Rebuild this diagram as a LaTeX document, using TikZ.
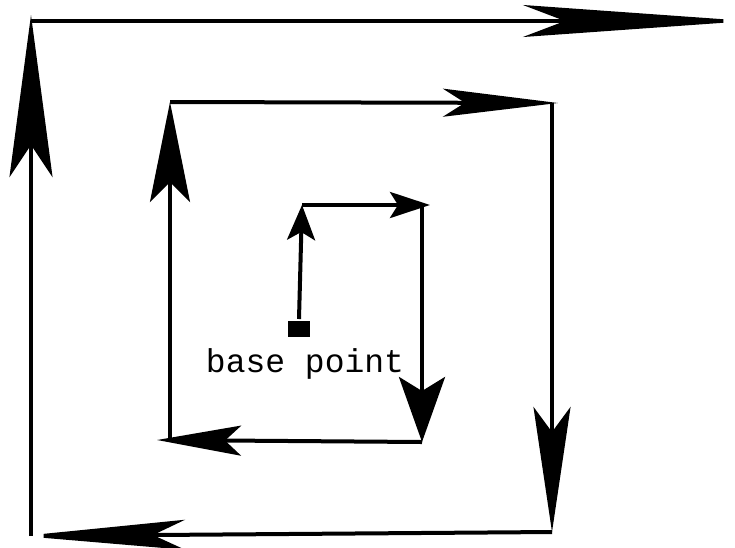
\documentclass[tikz,border=0pt]{standalone}
\usepackage{fontspec}
\setmonofont{Liberation Mono}
\usetikzlibrary{arrows.meta}

\begin{document}
\begin{tikzpicture}[x=1pt, y=-1pt, line width=4pt,
  spear/.style n args={3}{-{Stealth[length=#1pt, width=#2pt, inset=#3pt]}},
  lbl/.style={font=\fontsize{33}{35}\selectfont\ttfamily, inner sep=0pt}]
\useasboundingbox (0,0) rectangle (735,547);
% corners of the spiral, from the inside out
\node[fill, minimum width=22pt, minimum height=16pt, inner sep=0pt] (bp) at (299,329) {};
\coordinate (a) at (302,205);
\coordinate (b) at (430,205);
\coordinate (c) at (422,442);
\coordinate (d) at (157,440);
\coordinate (e) at (170,102);
\coordinate (f) at (558,103);
\coordinate (g) at (552,532);
\coordinate (h) at (22,536);
\coordinate (i) at (31,15);
\coordinate (j) at (748,21);
\node[lbl] (bplbl) at (305,364) {base point};
\draw[spear={35}{28}{8}] (bp.north) -- (a);
\draw[spear={40}{26}{8}] (a) -- (b);
\draw[spear={65}{46}{14}] (b -| c) -- (c);
\draw[spear={84}{30}{16}] (c) -- (d);
\draw[spear={100}{40}{20}] (d -| e) -- (e);
\draw[spear={115}{28}{22}] (e) -- (f);
\draw[spear={125}{37}{25}] (f -| g) -- (g);
\draw[spear={163}{30}{32}] (g) -- (h);
\draw[spear={162}{43}{32}] (h -| i) -- (i);
\draw[line width=3.5pt, spear={225}{32}{42}] (i |- j) -- (j);
\end{tikzpicture}
\end{document}
